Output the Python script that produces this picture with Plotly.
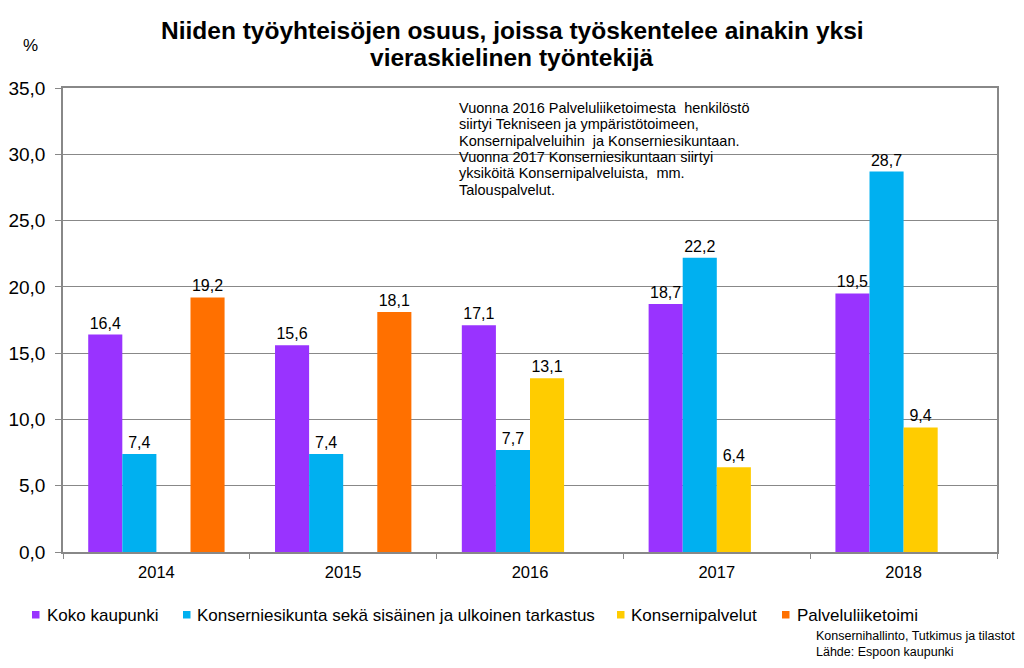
import plotly.graph_objects as go

years = ["2014", "2015", "2016", "2017", "2018"]
koko = [16.4, 15.6, 17.1, 18.7, 19.5]
konserniesikunta = [7.4, 7.4, 7.7, 22.2, 28.7]
konsernipalvelut = [None, None, 13.1, 6.4, 9.4]
palveluliiketoimi = [19.2, 18.1, None, None, None]

names = ["Koko kaupunki",
         "Konserniesikunta sekä sisäinen ja ulkoinen tarkastus",
         "Konsernipalvelut",
         "Palveluliiketoimi"]
colors = ["#9933FF", "#00B0F0", "#FFCC00", "#FF7000"]
values = [koko, konserniesikunta, konsernipalvelut, palveluliiketoimi]

title_lines = ["Niiden työyhteisöjen osuus, joissa työskentelee ainakin yksi",
               "vieraskielinen työntekijä"]

note_lines = [
    "Vuonna 2016 Palveluliiketoimesta  henkilöstö",
    "siirtyi Tekniseen ja ympäristötoimeen,",
    "Konsernipalveluihin  ja Konserniesikuntaan.",
    "Vuonna 2017 Konserniesikuntaan siirtyi",
    "yksiköitä Konsernipalveluista,  mm.",
    "Talouspalvelut.",
]

# Page body has an 8px margin: figure sits at (8,8) in the window.
W, H = 1008, 652
PL, PR, PT, PB = 63, 997, 88, 552  # plot area in window pixels


def px(wx):
    return (wx - PL) / (PR - PL)


def py(wy):
    return (PB - wy) / (PB - PT)


fig = go.Figure()
for name, vals, col in zip(names, values, colors):
    fig.add_trace(go.Bar(
        x=years, y=vals, name=name, marker=dict(color=col, line=dict(width=0)),
        text=[("%.1f" % v).replace(".", ",") if v is not None else "" for v in vals],
        textposition="outside", cliponaxis=False,
        textfont=dict(family="Liberation Sans, Arial", size=16, color="#000"),
        showlegend=False,
    ))

annotations = [
    dict(text="%", xref="paper", yref="paper", x=px(30), y=py(45), showarrow=False,
         font=dict(size=17), xanchor="center", yanchor="middle"),
    dict(text="Konsernihallinto, Tutkimus ja tilastot<br>Lähde: Espoon kaupunki",
         xref="paper", yref="paper", x=px(814), y=py(644),
         xanchor="left", yanchor="middle", align="left", showarrow=False,
         font=dict(size=12.5)),
]
for i, line in enumerate(title_lines):
    annotations.append(dict(
        text="<b>%s</b>" % line, xref="paper", yref="paper", x=px(512), y=py(30 + i * 28),
        xanchor="center", yanchor="middle", showarrow=False,
        font=dict(size=24.5, color="#000")))
for i, line in enumerate(note_lines):
    annotations.append(dict(
        text=line, xref="paper", yref="paper", x=px(457), y=py(108 + i * 16.3),
        xanchor="left", yanchor="middle", align="left", showarrow=False,
        font=dict(size=14.5)))

# manual legend
sw_x = [32, 183, 617, 782]
tx_x = [45, 195, 629, 795]
shapes = []
for name, col, sx, tx in zip(names, colors, sw_x, tx_x):
    shapes.append(dict(type="rect", xref="paper", yref="paper",
                       x0=px(sx), x1=px(sx + 7.5), y0=py(618.5), y1=py(611),
                       fillcolor=col, line=dict(width=0)))
    annotations.append(dict(text=name, xref="paper", yref="paper", x=px(tx), y=py(615),
                            xanchor="left", yanchor="middle", showarrow=False,
                            font=dict(size=17)))

fig.update_layout(
    width=W, height=H,
    margin=dict(l=PL - 8, r=W - (PR - 8), t=PT - 8, b=H - (PB - 8), autoexpand=False),
    paper_bgcolor="white", plot_bgcolor="white",
    barmode="group", bargap=0.27, bargroupgap=0,
    separators=",.",
    font=dict(family="Liberation Sans, Arial", color="#000"),
    showlegend=False,
    xaxis=dict(
        type="category", tickson="boundaries", ticks="outside", ticklen=5,
        tickcolor="#888", showline=True, linecolor="#888", linewidth=1.5, mirror=True,
        tickfont=dict(size=16.5), showgrid=False, ticklabelstandoff=4,
    ),
    yaxis=dict(
        range=[0, 35], dtick=5, tickformat=".1f", ticks="outside", ticklen=6,
        tickcolor="#888", showline=True, linecolor="#888", linewidth=1.5, mirror=True,
        gridcolor="#888", gridwidth=1, tickfont=dict(size=19), zeroline=False,
        ticklabelstandoff=6,
    ),
    annotations=annotations,
    shapes=shapes,
)

fig.write_html("out.html")
